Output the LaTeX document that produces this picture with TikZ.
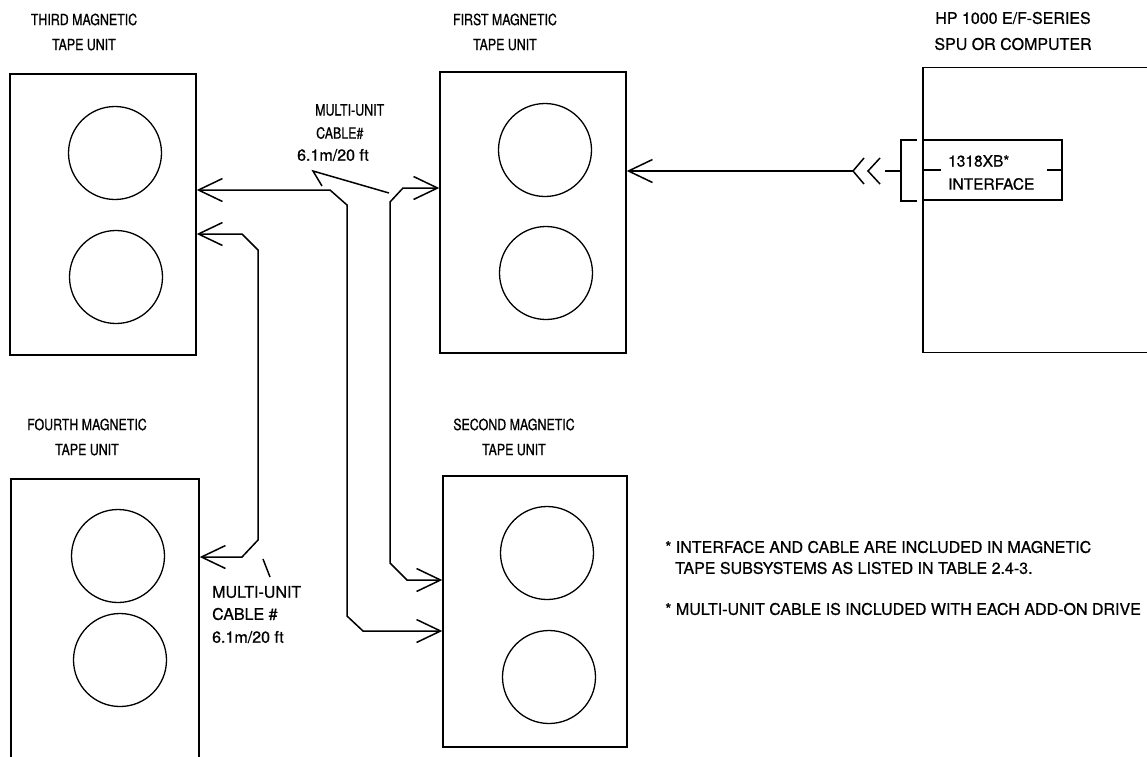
\documentclass[tikz,border=0pt]{standalone}
\usepackage{fontspec}
\setmainfont[FakeStretch=0.8,FakeBold=0.8]{TeX Gyre Heros}
\newfontfamily\widefont[FakeStretch=1.0,FakeBold=0.8]{TeX Gyre Heros}
\usetikzlibrary{arrows.meta}
\begin{document}
\begin{tikzpicture}[x=1pt,y=-1pt,
  every node/.style={font=\fontsize{15.5}{25}\selectfont},
  unit/.style={draw, line width=1.5pt, inner sep=0pt},
  reel/.style={draw, circle, line width=1.3pt, minimum size=93pt, inner sep=0pt},
  lbl/.style={align=center, inner sep=0pt},
  txt/.style={anchor=west, inner sep=0pt},
  big/.style={font=\widefont\fontsize{16}{26}\selectfont},
  note/.style={font=\widefont\fontsize{16}{21}\selectfont},
  cable/.style={line width=1.5pt, line join=miter, {Straight Barb[length=24pt,width=23pt]}-{Straight Barb[length=24pt,width=23pt]}},
  wire/.style={line width=1.5pt, line join=miter}]
\useasboundingbox (0,0) rectangle (1147,756);
% tape units
\node[unit, minimum width=186pt, minimum height=281pt] (third) at (103,214.5) {};
\node[unit, minimum width=186pt, minimum height=281pt] (first) at (533,212.5) {};
\node[unit, minimum width=188pt, minimum height=320pt] (fourth) at (105,639) {};
\node[unit, minimum width=184pt, minimum height=271pt] (second) at (535,611.5) {};
\node[unit, minimum width=280pt, minimum height=285pt] (hp) at (1063,210) {};
\node[unit, minimum width=139pt, minimum height=60pt] (iface) at (992.5,170) {};
% reels
\node[reel] (t1) at (115,153) {};
\node[reel] (t2) at (116,277) {};
\node[reel] (f1) at (545,150) {};
\node[reel] (f2) at (546,273) {};
\node[reel] (q1) at (118,556) {};
\node[reel] (q2) at (120,660) {};
\node[reel] (s1) at (547,553) {};
\node[reel] (s2) at (549,677) {};
% labels
\node[lbl] (thirdlbl) at (84,32) {THIRD MAGNETIC\\TAPE UNIT};
\node[lbl] (firstlbl) at (505,32) {FIRST MAGNETIC\\TAPE UNIT};
\node[lbl] (fourthlbl) at (87,437) {FOURTH MAGNETIC\\TAPE UNIT};
\node[lbl] (secondlbl) at (514,437) {SECOND MAGNETIC\\TAPE UNIT};
\node[lbl, big] (hplbl) at (1013,31) {HP 1000 E/F-SERIES\\SPU OR COMPUTER};
\node[txt] (m1) at (315,110) {MULTI-UNIT};
\node[txt] (m2) at (316,133) {CABLE\#};
\node[txt, big] (m3) at (297,155) {6.1m/20 ft};
\node[txt, big] (n1) at (212,592) {MULTI-UNIT};
\node[txt, big] (n2) at (212,614) {CABLE \#};
\node[txt, big] (n3) at (212,637) {6.1m/20 ft};
\node[txt, font=\widefont\fontsize{15.5}{20}\selectfont] (x1) at (948,161) {1318XB*};
\node[txt, font=\widefont\fontsize{15.5}{20}\selectfont] (x2) at (948,184) {INTERFACE};
\node[txt, note] (note1) at (665,547) {* INTERFACE AND CABLE ARE INCLUDED IN MAGNETIC};
\node[txt, note] (note2) at (675,568) {TAPE SUBSYSTEMS AS LISTED IN TABLE 2.4-3.};
\node[txt, note] (note3) at (665,609) {* MULTI-UNIT CABLE IS INCLUDED WITH EACH ADD-ON DRIVE};
% cable bend points
\coordinate (a1) at (330,190);
\coordinate (a2) at (347,205);
\coordinate (a3) at (347,616);
\coordinate (a4) at (363,631);
\coordinate (b1) at (403,188);
\coordinate (b2) at (390,202);
\coordinate (b3) at (390,563);
\coordinate (b4) at (407,580);
\coordinate (c1) at (242,234);
\coordinate (c2) at (258,250);
\coordinate (c3) at (258,540);
\coordinate (c4) at (242,557);
\draw[cable] (third.east |- a1) -- (a1) -- (a2) -- (a3) -- (a4) -- (second.west |- a4);
\draw[cable] (first.west |- b1) -- (b1) -- (b2) -- (b3) -- (b4) -- (second.west |- b4);
\draw[cable] (third.east |- c1) -- (c1) -- (c2) -- (c3) -- (c4) -- (fourth.east |- c4);
% leaders
\coordinate (v0) at (313,171);
\coordinate (v1) at (322,186);
\coordinate (v2) at (389,193);
\draw[wire] (v1) -- (v0) -- (v2);
\coordinate (w0) at (263,559);
\coordinate (w1) at (270,577);
\draw[wire] (w0) -- (w1);
% computer link
\coordinate (k0) at (853,171);
\coordinate (k1) at (868,171);
\draw[wire, -{Straight Barb[length=24pt,width=23pt]}] (k0) -- (first.east |- k0);
\draw[wire] ([shift={(11,-13)}]k0) -- (k0) -- ([shift={(11,13)}]k0);
\draw[wire] ([shift={(12,-13)}]k1) -- (k1) -- ([shift={(12,13)}]k1);
\coordinate (k2) at (885,171);
\coordinate (k3) at (901,171);
\draw[wire] (k2) -- (k3);
\draw[wire] (917,140) -- (901,140) -- (901,201) -- (917,201);
\draw[wire] (iface.west) -- ++(19,0);
\draw[wire] (iface.east) -- ++(-16,0);
\end{tikzpicture}
\end{document}
